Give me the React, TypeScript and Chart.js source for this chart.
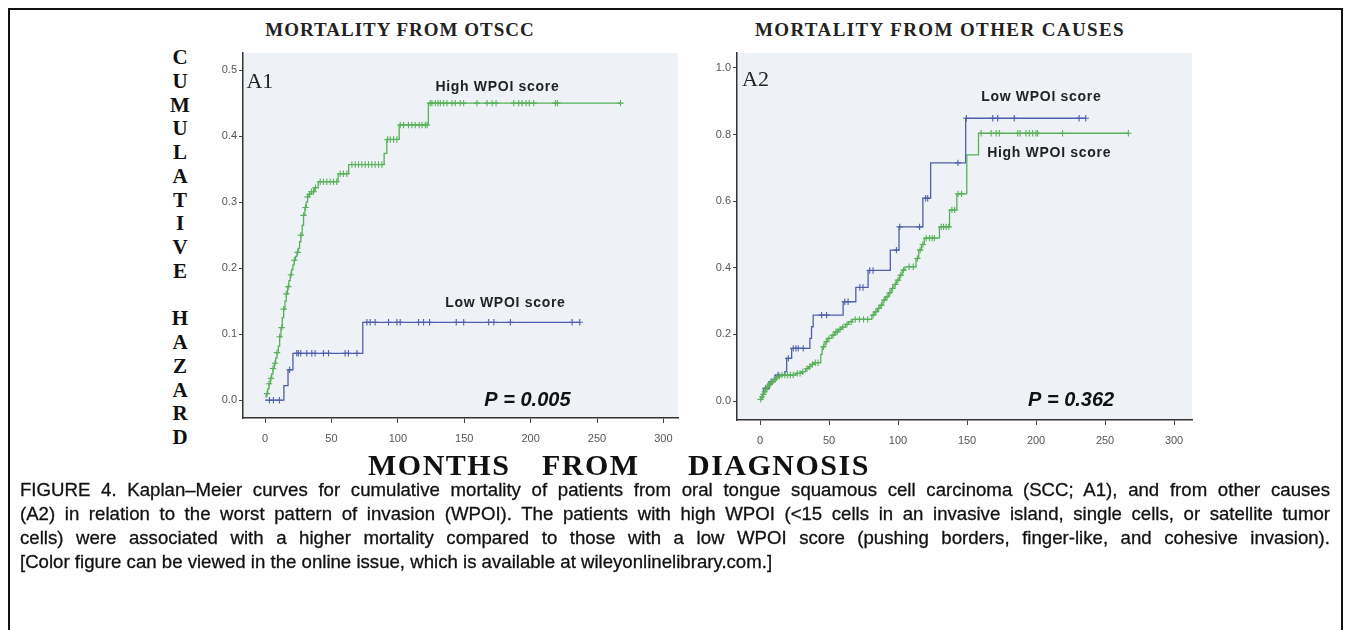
import React, { useEffect, useRef } from 'react';
import { Chart, registerables } from 'chart.js';
Chart.register(...registerables);

// ---------- Panel A1: mortality from OTSCC ----------
const a1HighTimes = [0, 1, 2, 3, 4, 5, 6, 7, 8, 9, 10, 11, 12, 13, 14, 15, 16, 17, 18, 19, 20, 21, 22, 23, 24, 25, 26, 27, 28, 29, 30, 31, 32, 33, 35, 37, 40, 55, 63, 89.7, 91.7, 101, 123];
const a1HighValues = [0.005, 0.01, 0.017, 0.025, 0.033, 0.04, 0.048, 0.056, 0.064, 0.072, 0.082, 0.096, 0.11, 0.125, 0.138, 0.15, 0.161, 0.172, 0.181, 0.19, 0.198, 0.205, 0.212, 0.218, 0.224, 0.23, 0.24, 0.25, 0.265, 0.28, 0.292, 0.3, 0.308, 0.312, 0.316, 0.322, 0.331, 0.343, 0.357, 0.374, 0.395, 0.417, 0.45];
const a1HighCensored = [1.5, 3, 4.5, 6, 7.5, 9, 11, 12.5, 14, 16, 17.5, 19.5, 22, 24.5, 27, 29, 30.5, 32, 33.5, 35, 36.5, 38, 41.5, 44, 46.5, 49, 51.5, 54, 56.6, 59, 61.6, 65.4, 67.9, 70.4, 72.9, 75.4, 77.9, 80.4, 82.9, 85.5, 88, 92.3, 94.3, 96.8, 99.3, 101.8, 104.3, 108, 110.6, 113.1, 116.1, 118.2, 120.7, 122, 124.4, 125.7, 128.2, 130.2, 132, 134.5, 137, 140.8, 143.3, 147, 149.6, 159.6, 167.2, 171, 174, 187.3, 191, 193.6, 196.6, 199, 202.3, 218.7, 220.2, 267.7];
const a1HighEnd = 267.7;

const a1LowTimes = [0, 14.2, 17.3, 21, 73.6];
const a1LowValues = [0, 0.022, 0.046, 0.071, 0.118];
const a1LowCensored = [3.3, 6.3, 10.8, 18.5, 23.9, 25.1, 26.9, 31.4, 35.2, 37.7, 44, 47.8, 60.3, 62.8, 69.2, 76.7, 79.2, 82.9, 93, 99.3, 101.8, 115.6, 119.4, 123.9, 144, 149.6, 168.4, 172.3, 184.8, 231.3, 237];
const a1LowEnd = 237;

const a1YTicks = [0, 0.1, 0.2, 0.3, 0.4, 0.5];
const a1YLabels = ['0.0', '0.1', '0.2', '0.3', '0.4', '0.5'];

// ---------- Panel A2: mortality from other causes ----------
const a2LowTimes = [0, 2.4, 6.7, 10.8, 18, 19.3, 22.9, 36.1, 37.3, 38.5, 60.2, 69.4, 78.3, 94.4, 100.7, 118, 123.6, 149];
const a2LowValues = [0.013, 0.038, 0.058, 0.078, 0.088, 0.128, 0.158, 0.188, 0.223, 0.258, 0.298, 0.341, 0.392, 0.453, 0.523, 0.609, 0.715, 0.849];
const a2LowCensored = [4, 8, 13, 20.5, 24.1, 26, 27.7, 31.3, 44.6, 48.2, 61.4, 63.8, 72.3, 74.6, 79.5, 81.9, 98.8, 101.2, 115.6, 120, 121.5, 143.4, 149.5, 168.6, 172.2, 184.2, 231.2, 236];
const a2LowEnd = 236;

const a2HighTimes = [0, 1, 2, 3, 4, 5, 6, 7, 8, 10, 11, 13, 15, 26, 30, 33, 35, 37, 39, 44, 45, 47, 49, 52, 54, 57, 59, 62, 64, 67, 81, 83, 85, 87, 89, 91, 93, 95, 97, 99, 101, 103, 105, 113, 115, 117, 119, 130, 137.3, 142.6, 149.8, 158.3];
const a2HighValues = [0.005, 0.012, 0.02, 0.028, 0.035, 0.042, 0.048, 0.053, 0.058, 0.065, 0.07, 0.075, 0.078, 0.083, 0.088, 0.097, 0.103, 0.11, 0.115, 0.14, 0.163, 0.178, 0.188, 0.198, 0.208, 0.215, 0.222, 0.23, 0.238, 0.245, 0.258, 0.268, 0.278, 0.288, 0.303, 0.313, 0.325, 0.338, 0.35, 0.363, 0.378, 0.393, 0.403, 0.428, 0.453, 0.47, 0.489, 0.523, 0.574, 0.622, 0.739, 0.804];
const a2HighCensored = [0.5, 1.5, 2.5, 3.5, 4.5, 5.5, 6.5, 7.5, 9, 10.5, 12, 14, 16, 18, 20, 22, 24, 27, 29, 31, 34, 36, 38, 40, 42, 46, 48, 50, 53, 55, 56, 58, 60, 63, 66, 69, 72, 75, 78, 82, 84, 86, 88, 90, 92, 94, 96, 98, 100, 102, 104, 108, 111, 114, 116, 118, 120.4, 122.8, 124.8, 126.4, 131.3, 133, 134.9, 136.8, 139, 141, 143.5, 146, 160.2, 167.5, 171.1, 173.4, 186.7, 188.4, 192.7, 195.1, 197.5, 199.9, 201.1, 219.2, 266.9];
const a2HighEnd = 266.9;

const a2YTicks = [0, 0.2, 0.4, 0.6, 0.8, 1.0];
const a2YLabels = ['0.0', '0.2', '0.4', '0.6', '0.8', '1.0'];

const xTicks = [0, 50, 100, 150, 200, 250, 300];
const xLabels = ['0', '50', '100', '150', '200', '250', '300'];

const GREEN = '#58b158';
const BLUE = '#4f5fab';

function valueAt(times: number[], values: number[], t: number) {
  let v = values[0];
  for (let i = 0; i < times.length; i++) if (times[i] <= t) v = values[i];
  return v;
}

function curve(times: number[], values: number[], end: number, color: string) {
  const pts = times.map((t, i) => ({ x: t, y: values[i] }));
  pts.push({ x: end, y: values[values.length - 1] });
  return {
    type: 'line',
    data: pts,
    stepped: true,
    borderColor: color,
    borderWidth: 1.3,
    pointRadius: 0,
    fill: false,
  };
}

function marks(times: number[], values: number[], cens: number[], color: string) {
  return {
    type: 'line',
    data: cens.map((t) => ({ x: t, y: valueAt(times, values, t) })),
    showLine: false,
    pointStyle: 'cross',
    pointRadius: 3.2,
    borderColor: color,
    backgroundColor: color,
    pointBorderWidth: 1.1,
  };
}

const decoPlugin = {
  id: 'deco',
  beforeDraw(chart: any, _a: any, opts: any) {
    const { ctx, chartArea: a } = chart;
    ctx.save();
    ctx.fillStyle = opts.bg;
    ctx.fillRect(a.left, a.top, a.right - a.left, a.bottom - a.top);
    ctx.restore();
  },
  afterDatasetsDraw(chart: any, _a: any, opts: any) {
    const { ctx } = chart;
    const xs = chart.scales.x;
    const ys = chart.scales.y;
    ctx.save();
    for (const t of opts.texts || []) {
      ctx.font = t.font;
      ctx.fillStyle = t.color || '#111';
      ctx.textAlign = t.align || 'center';
      ctx.textBaseline = 'middle';
      if ('letterSpacing' in ctx) (ctx as any).letterSpacing = t.spacing || '0px';
      ctx.fillText(t.text, xs.getPixelForValue(t.x), ys.getPixelForValue(t.y));
    }
    ctx.restore();
  },
};

function makeConfig(p: any) {
  const tickFont = { family: '"Liberation Sans", Arial, sans-serif', size: 11 };
  return {
    data: { datasets: p.datasets },
    plugins: [decoPlugin],
    options: {
      animation: false,
      responsive: false,
      events: [],
      layout: { padding: { top: p.padTop, right: p.padRight, left: 0, bottom: 0 } },
      plugins: {
        legend: { display: false },
        tooltip: { enabled: false },
        deco: { bg: '#eef1f6', texts: p.texts },
      },
      scales: {
        x: {
          type: 'linear',
          min: p.xMin,
          max: p.xMax,
          afterBuildTicks: (s: any) => { s.ticks = xTicks.map((v) => ({ value: v })); },
          afterFit: (s: any) => { s.height = p.xHeight; },
          ticks: {
            callback: (_v: any, i: number) => xLabels[i],
            font: tickFont,
            color: '#555',
            padding: 9,
            maxRotation: 0,
            autoSkip: false,
          },
          grid: { drawOnChartArea: false, drawTicks: true, tickLength: 5, color: '#444' },
          border: { display: true, color: '#333', width: 1.5 },
        },
        y: {
          type: 'linear',
          min: p.yMin,
          max: p.yMax,
          afterBuildTicks: (s: any) => { s.ticks = p.yTicks.map((v: number) => ({ value: v })); },
          afterFit: (s: any) => { s.width = p.yWidth; },
          ticks: {
            callback: (_v: any, i: number) => p.yLabels[i],
            font: tickFont,
            color: '#555',
            padding: 2,
            autoSkip: false,
          },
          grid: { drawOnChartArea: false, drawTicks: true, tickLength: 4, color: '#444' },
          border: { display: true, color: '#333', width: 1.5 },
        },
      },
    },
  };
}

const labelFont = 'bold 14px "Liberation Sans", Arial, sans-serif';
const pFont = 'bold italic 20px "Liberation Sans", Arial, sans-serif';
const panelFont = '22px "Liberation Serif", "Times New Roman", serif';

const panelA1 = {
  xMin: -16.6, xMax: 311, yMin: -0.027, yMax: 0.526,
  yTicks: a1YTicks, yLabels: a1YLabels,
  yWidth: 48, xHeight: 32, padTop: 13, padRight: 17,
  datasets: [
    curve(a1LowTimes, a1LowValues, a1LowEnd, BLUE),
    marks(a1LowTimes, a1LowValues, a1LowCensored, BLUE),
    curve(a1HighTimes, a1HighValues, a1HighEnd, GREEN),
    marks(a1HighTimes, a1HighValues, a1HighCensored, GREEN),
  ],
  texts: [
    { x: -14, y: 0.481, text: 'A1', font: panelFont, align: 'left', color: '#222' },
    { x: 175, y: 0.474, text: 'High WPOI score', font: labelFont, spacing: '0.7px', color: '#222' },
    { x: 181, y: 0.147, text: 'Low WPOI score', font: labelFont, spacing: '0.7px', color: '#222' },
    { x: 197.6, y: 0.0, text: 'P = 0.005', font: pFont, color: '#111' },
  ],
};

const panelA2 = {
  xMin: -16.7, xMax: 313, yMin: -0.057, yMax: 1.045,
  yTicks: a2YTicks, yLabels: a2YLabels,
  yWidth: 47, xHeight: 30, padTop: 13, padRight: 8,
  datasets: [
    curve(a2HighTimes, a2HighValues, a2HighEnd, GREEN),
    marks(a2HighTimes, a2HighValues, a2HighCensored, GREEN),
    curve(a2LowTimes, a2LowValues, a2LowEnd, BLUE),
    marks(a2LowTimes, a2LowValues, a2LowCensored, BLUE),
  ],
  texts: [
    { x: -13, y: 0.962, text: 'A2', font: panelFont, align: 'left', color: '#222' },
    { x: 203.8, y: 0.913, text: 'Low WPOI score', font: labelFont, spacing: '0.7px', color: '#222' },
    { x: 209.5, y: 0.745, text: 'High WPOI score', font: labelFont, spacing: '0.7px', color: '#222' },
    { x: 225.4, y: 0.003, text: 'P = 0.362', font: pFont, color: '#111' },
  ],
};

function ChartCanvas({ panel, width, height }: any) {
  const ref = useRef<HTMLCanvasElement | null>(null);
  useEffect(() => {
    if (!ref.current) return;
    const chart = new Chart(ref.current, makeConfig(panel) as any);
    return () => chart.destroy();
  }, [panel]);
  return <canvas ref={ref} width={width} height={height} style={{ width, height, display: 'block' }} />;
}

const yAxisLetters = ['C', 'U', 'M', 'U', 'L', 'A', 'T', 'I', 'V', 'E', '', 'H', 'A', 'Z', 'A', 'R', 'D'];

const xTitleWords = ['MONTHS', 'FROM', 'DIAGNOSIS'];
const xTitleLefts = [358, 532, 678];

const captionLines = [
  'FIGURE 4. Kaplan\u2013Meier curves for cumulative mortality of patients from oral tongue squamous cell carcinoma (SCC; A1), and from other causes',
  '(A2) in relation to the worst pattern of invasion (WPOI). The patients with high WPOI (<15 cells in an invasive island, single cells, or satellite tumor',
  'cells) were associated with a higher mortality compared to those with a low WPOI score (pushing borders, finger-like, and cohesive invasion).',
  '[Color figure can be viewed in the online issue, which is available at wileyonlinelibrary.com.]',
];

export default function App() {
  const serif = '"Liberation Serif", "Times New Roman", serif';
  const sans = '"Liberation Sans", Arial, sans-serif';
  const capScale = 0.98;
  return (
    <div style={{ position: 'relative', width: 1331, height: 640, border: '2px solid #111', background: '#fff', overflow: 'hidden' }}>
      <div style={{ position: 'absolute', left: 240, top: 9, width: 300, textAlign: 'center', fontFamily: serif, fontWeight: 'bold', fontSize: 19, lineHeight: '22px', letterSpacing: 1, color: '#222', whiteSpace: 'nowrap' }}>
        MORTALITY FROM OTSCC
      </div>
      <div style={{ position: 'absolute', left: 680, top: 9, width: 500, textAlign: 'center', fontFamily: serif, fontWeight: 'bold', fontSize: 19, lineHeight: '22px', letterSpacing: 1.4, color: '#222', whiteSpace: 'nowrap' }}>
        MORTALITY FROM OTHER CAUSES
      </div>
      <div style={{ position: 'absolute', left: 150, top: 36, width: 40, textAlign: 'center', fontFamily: serif, fontWeight: 'bold', fontSize: 21, lineHeight: '23.75px', color: '#111' }}>
        {yAxisLetters.map((c, i) => (
          <div key={i} style={{ height: 23.75 }}>{c}</div>
        ))}
      </div>
      <div style={{ position: 'absolute', left: 185, top: 30 }}>
        <ChartCanvas panel={panelA1} width={500} height={410} />
      </div>
      <div style={{ position: 'absolute', left: 680, top: 30 }}>
        <ChartCanvas panel={panelA2} width={510} height={410} />
      </div>
      {xTitleWords.map((w, i) => (
        <div key={w} style={{ position: 'absolute', left: xTitleLefts[i], top: 438, whiteSpace: 'nowrap', fontFamily: serif, fontWeight: 'bold', fontSize: 30, lineHeight: '34px', letterSpacing: 1.5, color: '#111' }}>
          {w}
        </div>
      ))}
      <div style={{ position: 'absolute', left: 10, top: 468, width: 1310 / capScale, transform: `scaleX(${capScale})`, transformOrigin: '0 0', fontFamily: sans, fontSize: 19, lineHeight: '24px', color: '#111', WebkitTextStroke: '0.3px #111' } as any}>
        {captionLines.map((l, i) => (
          <div key={i} style={{ whiteSpace: 'nowrap', textAlign: i < 3 ? 'justify' : 'left', textAlignLast: i < 3 ? 'justify' : 'left' } as any}>{l}</div>
        ))}
      </div>
    </div>
  );
}
